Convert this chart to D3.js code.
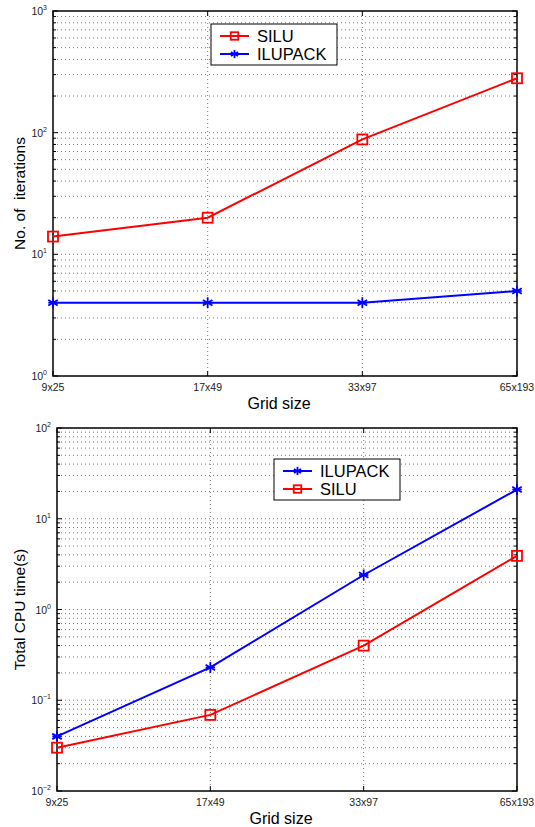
<!DOCTYPE html>
<html>
<head>
<meta charset="utf-8">
<script src="https://cdn.jsdelivr.net/npm/d3@7"></script>
<style>
  body { margin: 0; background: #fff; }
  text { font-family: "Liberation Sans", Arial, sans-serif; white-space: pre; }
</style>
</head>
<body>
<div id="chart"></div>
<script>
    // data
    const gridSizes = ["9x25", "17x49", "33x97", "65x193"];
    const iterSILU = [14, 20, 88, 280];
    const iterILUPACK = [4, 4, 4, 5];
    const cpuILUPACK = [0.04, 0.23, 2.4, 21];
    const cpuSILU = [0.03, 0.069, 0.40, 3.9];

    const svg = d3.select("#chart").append("svg")
        .attr("width", 535).attr("height", 827);

    function drawPanel(opt) {
        const g = svg.append("g").attr("transform", `translate(${opt.left},${opt.top})`);
        const w = opt.width, h = opt.height;

        const x = d3.scalePoint().domain(gridSizes).range([0, w]);
        const y = d3.scaleLog().domain(opt.yDomain).range([h, 0]);

        // minor + major horizontal grid
        const lo = Math.log10(opt.yDomain[0]), hi = Math.log10(opt.yDomain[1]);
        const gridVals = [];
        for (let e = lo; e < hi; e++) {
            for (let m = 1; m <= 9; m++) gridVals.push({ v: m * Math.pow(10, e), major: m === 1 });
        }
        gridVals.push({ v: Math.pow(10, hi), major: true });
        g.selectAll(".hg").data(gridVals.filter(d => d.v > opt.yDomain[0] * 1.0001 && d.v < opt.yDomain[1] * 0.9999))
            .enter().append("line")
            .attr("x1", 0).attr("x2", w)
            .attr("y1", d => y(d.v)).attr("y2", d => y(d.v))
            .attr("stroke", "#777").attr("stroke-width", 1)
            .attr("stroke-dasharray", "1,3");
        g.selectAll(".vg").data(gridSizes.slice(1, -1))
            .enter().append("line")
            .attr("x1", d => x(d)).attr("x2", d => x(d))
            .attr("y1", 0).attr("y2", h)
            .attr("stroke", "#777").attr("stroke-width", 1)
            .attr("stroke-dasharray", "1,3");

        // ticks (inside, both sides)
        const tickG = g.append("g").attr("stroke", "#000").attr("stroke-width", 1);
        gridVals.forEach(d => {
            const len = d.major ? 5 : 3;
            tickG.append("line").attr("x1", 0).attr("x2", len).attr("y1", y(d.v)).attr("y2", y(d.v));
            tickG.append("line").attr("x1", w).attr("x2", w - len).attr("y1", y(d.v)).attr("y2", y(d.v));
        });
        gridSizes.forEach(d => {
            tickG.append("line").attr("x1", x(d)).attr("x2", x(d)).attr("y1", h).attr("y2", h - 5);
            tickG.append("line").attr("x1", x(d)).attr("x2", x(d)).attr("y1", 0).attr("y2", 5);
        });

        // frame
        g.append("rect").attr("width", w).attr("height", h)
            .attr("fill", "none").attr("stroke", "#000").attr("stroke-width", 1.5);

        // y tick labels 10^n
        for (let e = lo; e <= hi; e++) {
            const t = g.append("text")
                .attr("x", -6).attr("y", y(Math.pow(10, e)) + 4)
                .attr("text-anchor", "end").attr("font-size", 10.5).attr("fill", "#222");
            t.append("tspan").text("10");
            t.append("tspan").attr("dy", -5).attr("font-size", 7).text(String(e).replace("-", "\u2212"));
        }

        // x tick labels
        g.selectAll(".xl").data(gridSizes).enter().append("text")
            .attr("x", d => x(d)).attr("y", h + 15)
            .attr("text-anchor", "middle").attr("font-size", 10.5).attr("fill", "#222")
            .text(d => d);

        g.append("text").attr("x", w / 2 - 6).attr("y", h + 33)
            .attr("text-anchor", "middle").attr("font-size", 16).text("Grid size");
        g.append("text")
            .attr("transform", `translate(${-opt.left + 25},${h / 2}) rotate(-90)`)
            .attr("text-anchor", "middle").attr("font-size", 15.5).text(opt.yLabel);

        // series
        const line = d3.line().x((d, i) => x(gridSizes[i])).y(d => y(d));
        opt.series.forEach(s => {
            g.append("path").datum(s.values)
                .attr("fill", "none").attr("stroke", s.color).attr("stroke-width", 2)
                .attr("d", line);
            s.values.forEach((v, i) => drawMarker(g, s.marker, x(gridSizes[i]), y(v), s.color));
        });

        // legend
        const lg = g.append("g").attr("transform", `translate(${opt.legend[0]},${opt.legend[1]})`);
        lg.append("rect").attr("width", 126).attr("height", 41)
            .attr("fill", "#fff").attr("stroke", "#000").attr("stroke-width", 1);
        opt.series.forEach((s, i) => {
            const yy = 12 + i * 18;
            lg.append("line").attr("x1", 9).attr("x2", 38).attr("y1", yy).attr("y2", yy)
                .attr("stroke", s.color).attr("stroke-width", 2);
            drawMarker(lg, s.marker, 23.5, yy, s.color, 0.75);
            lg.append("text").attr("x", 46).attr("y", yy + 6)
                .attr("font-size", 16.5).text(s.name);
        });
    }

    function drawMarker(g, type, cx, cy, color, k) {
        k = k || 1;
        if (type === "square") {
            const s = 10 * k;
            g.append("rect").attr("x", cx - s / 2).attr("y", cy - s / 2)
                .attr("width", s).attr("height", s)
                .attr("fill", "none").attr("stroke", color).attr("stroke-width", 1.8);
        } else {
            const r = 5.5 * k;
            const star = g.append("g").attr("stroke", color).attr("stroke-width", 1.8);
            [0, 60, 120].forEach(a => {
                const rad = a * Math.PI / 180 + Math.PI / 2;
                star.append("line")
                    .attr("x1", cx - r * Math.cos(rad)).attr("y1", cy - r * Math.sin(rad))
                    .attr("x2", cx + r * Math.cos(rad)).attr("y2", cy + r * Math.sin(rad));
            });
            star.append("line").attr("x1", cx - r * 0.85).attr("x2", cx + r * 0.85)
                .attr("y1", cy).attr("y2", cy);
        }
    }

    drawPanel({
        left: 53, top: 11, width: 464, height: 365,
        yDomain: [1, 1000],
        yLabel: "No. of  iterations",
        legend: [158, 13],
        series: [
            { name: "SILU", values: iterSILU, color: "#ff0000", marker: "square" },
            { name: "ILUPACK", values: iterILUPACK, color: "#0000ff", marker: "star" }
        ]
    });

    drawPanel({
        left: 57, top: 428, width: 460, height: 363,
        yDomain: [0.01, 100],
        yLabel: "Total CPU time(s)",
        legend: [217, 31],
        series: [
            { name: "ILUPACK", values: cpuILUPACK, color: "#0000ff", marker: "star" },
            { name: "SILU", values: cpuSILU, color: "#ff0000", marker: "square" }
        ]
    });
</script>
</body>
</html>
